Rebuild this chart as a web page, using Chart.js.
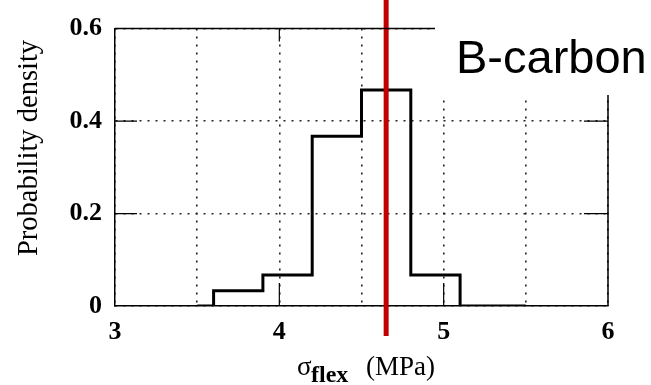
<!DOCTYPE html>
<html>
<head>
<meta charset="utf-8">
<script src="https://cdn.jsdelivr.net/npm/chart.js@4"></script>
<style>
  html, body { margin: 0; padding: 0; background: #fff; }
  #wrap { width: 651px; height: 385px; position: relative; }
</style>
</head>
<body>
<div id="wrap"><canvas id="c" width="651" height="385"></canvas></div>
<script>
// ---- data ----
const binEdges = [3.5, 3.6, 3.9, 4.2, 4.5, 4.8, 5.1, 5.5];
const densities = [0, 0.033, 0.067, 0.367, 0.467, 0.067, 0];
const markerX = 4.65;               // red vertical marker
const markerYRange = [-0.065, 0.7];
const xTickLabels = [3, 4, 5, 6];
const yTickLabels = [0, 0.2, 0.4, 0.6];
const yTitle = 'Probability density';
const xTitleMain = 'σ';
const xTitleSub = 'flex';
const xTitleUnit = '(MPa)';
const annotationText = 'B-carbon';

// step points: each bin's left edge carries that bin's value; the last point closes the final bin
const histPoints = binEdges.map((x, i) => ({ x: x, y: densities[Math.min(i, densities.length - 1)] }));
const markerPoints = markerYRange.map(y => ({ x: markerX, y: y }));

const serif = "'Liberation Serif', 'Times New Roman', serif";

const framePlugin = {
  id: 'frame',
  afterDraw(chart) {
    const ctx = chart.ctx;
    const xs = chart.scales.x, ys = chart.scales.y;
    const a = chart.chartArea;
    ctx.save();
    ctx.strokeStyle = '#000';
    ctx.lineWidth = 1.5;
    // top & right frame
    ctx.beginPath();
    ctx.moveTo(a.left, a.top); ctx.lineTo(a.right, a.top);
    ctx.moveTo(a.right, a.top); ctx.lineTo(a.right, a.bottom);
    ctx.stroke();
    // inner solid ticks
    ctx.lineWidth = 1.2;
    ctx.beginPath();
    xTickLabels.forEach(v => {
      if (v === xs.min || v === xs.max) return;
      const px = xs.getPixelForValue(v);
      ctx.moveTo(px, a.bottom); ctx.lineTo(px, a.bottom - 23);
      ctx.moveTo(px, a.top); ctx.lineTo(px, a.top + 13);
    });
    yTickLabels.forEach(v => {
      if (v === ys.min || v === ys.max) return;
      const py = ys.getPixelForValue(v);
      ctx.moveTo(a.left, py); ctx.lineTo(a.left + 22, py);
      ctx.moveTo(a.right, py); ctx.lineTo(a.right - 24, py);
    });
    ctx.stroke();

    // white label box covering the top-right corner
    ctx.fillStyle = '#fff';
    ctx.fillRect(435, 0, chart.width - 435, 95);
    ctx.fillStyle = '#000';
    ctx.font = "47px 'Liberation Sans', Arial, sans-serif";
    ctx.textAlign = 'left';
    ctx.textBaseline = 'alphabetic';
    ctx.fillText(annotationText, 456, 73);

    // y-axis title
    ctx.save();
    ctx.translate(30, 148);
    ctx.rotate(-Math.PI / 2);
    ctx.font = '28.5px ' + serif;
    ctx.textAlign = 'center';
    ctx.textBaseline = 'middle';
    ctx.fillText(yTitle, 0, 0);
    ctx.restore();

    // x-axis title with subscript
    ctx.textAlign = 'left';
    ctx.textBaseline = 'alphabetic';
    ctx.font = '27px ' + serif;
    ctx.fillText(xTitleMain, 297, 375);
    ctx.font = 'bold 24px ' + serif;
    ctx.fillText(xTitleSub, 311, 382);
    ctx.font = '27px ' + serif;
    ctx.fillText(xTitleUnit, 366, 375);
    ctx.restore();
  }
};

new Chart(document.getElementById('c'), {
  type: 'line',
  data: {
    datasets: [
      {
        data: markerPoints,
        borderColor: '#c00000',
        borderWidth: 5,
        pointRadius: 0,
        clip: false,
        order: 0
      },
      {
        data: histPoints,
        stepped: 'before',
        borderColor: '#000',
        borderWidth: 3,
        pointRadius: 0,
        fill: false,
        order: 1
      }
    ]
  },
  options: {
    responsive: false,
    animation: false,
    devicePixelRatio: 1,
    layout: { padding: { top: 20, right: 43, left: 0, bottom: 0 } },
    plugins: { legend: { display: false }, tooltip: { enabled: false } },
    scales: {
      x: {
        type: 'linear',
        min: 3, max: 6,
        afterFit(s) { s.height = 79; },
        ticks: {
          stepSize: 0.5,
          autoSkip: false,
          maxRotation: 0,
          padding: 11,
          color: '#000',
          font: { family: serif, size: 26, weight: 'bold' },
          callback: v => (xTickLabels.includes(v) ? String(v) : '')
        },
        grid: {
          color: '#222',
          lineWidth: 1.6,
          drawTicks: false
        },
        border: { display: true, color: '#000', width: 1.5, dash: [2, 6] }
      },
      y: {
        min: 0, max: 0.6,
        afterFit(s) { s.width = 115; },
        ticks: {
          stepSize: 0.2,
          autoSkip: false,
          padding: 13,
          color: '#000',
          font: { family: serif, size: 26, weight: 'bold' },
          callback: v => { const m = yTickLabels.find(t => Math.abs(t - v) < 1e-9); return m === undefined ? '' : (m === 0 ? '0' : m.toFixed(1)); }
        },
        grid: {
          color: '#222',
          lineWidth: 1.6,
          drawTicks: false
        },
        border: { display: true, color: '#000', width: 1.5, dash: [2, 6] }
      }
    }
  },
  plugins: [framePlugin]
});
</script>
</body>
</html>
